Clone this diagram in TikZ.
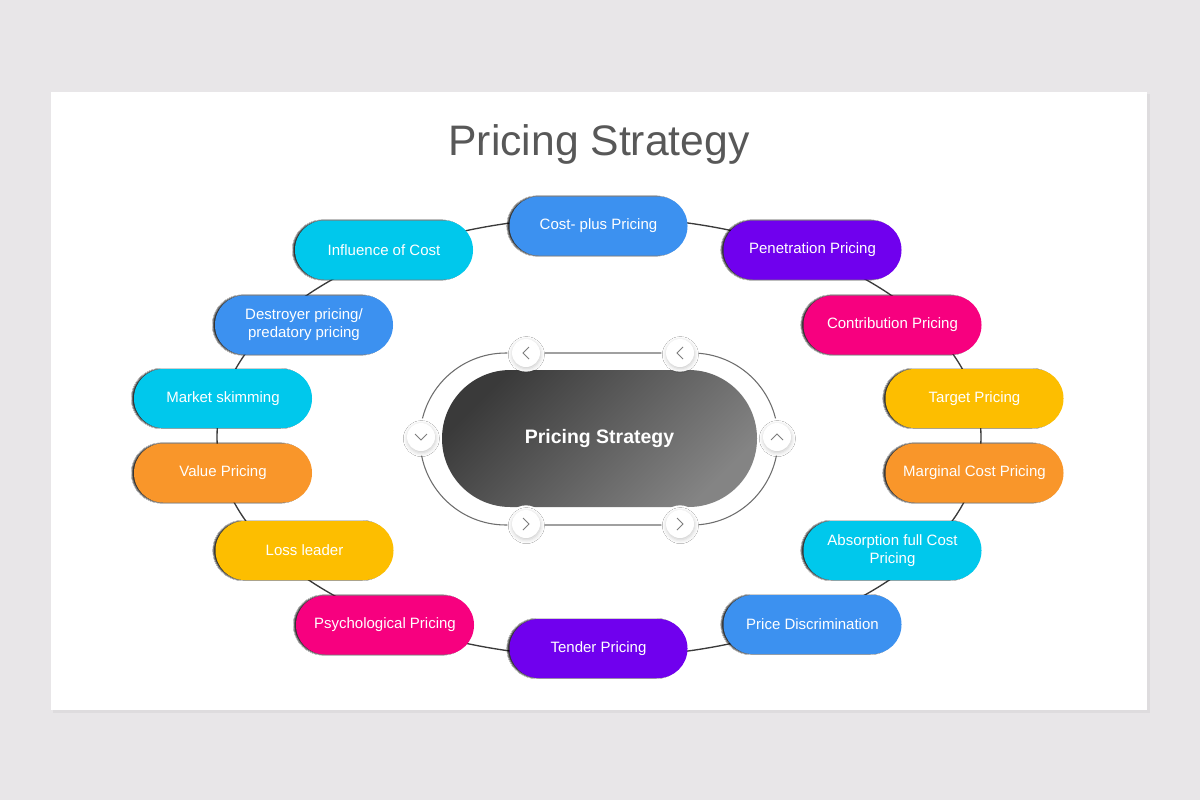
\documentclass[tikz,border=0pt]{standalone}
\usepackage{fontspec}
\setmainfont{Liberation Sans}
\usetikzlibrary{shadows.blur}

\definecolor{backgray}{RGB}{232,230,232}
\definecolor{slideshade}{RGB}{222,220,222}
\definecolor{titlegray}{RGB}{88,88,88}
\definecolor{ringgray}{RGB}{58,58,58}
\definecolor{loopgray}{RGB}{110,110,110}
\definecolor{chevgray}{RGB}{125,125,125}
\definecolor{pillblue}{RGB}{60,145,240}
\definecolor{pillcyan}{RGB}{0,200,236}
\definecolor{pillpurple}{RGB}{112,0,238}
\definecolor{pillpink}{RGB}{247,0,127}
\definecolor{pillyellow}{RGB}{253,190,0}
\definecolor{pillorange}{RGB}{249,150,42}
\definecolor{coredark}{RGB}{58,58,58}
\definecolor{corelight}{RGB}{132,132,132}

\begin{document}
\begin{tikzpicture}[x=0.75pt,y=0.75pt,yscale=-1,xscale=1,
  pill/.style={rectangle, rounded corners=22pt, minimum width=133.5pt, minimum height=44.25pt, inner sep=0pt, align=center, text=white, font=\fontsize{11.25}{13.5}\selectfont, blur shadow={shadow xshift=-1.5pt, shadow yshift=0pt, shadow blur radius=0.6pt, shadow opacity=80}},
  halo/.style={circle, fill=white, minimum size=28pt, inner sep=0pt},
  knob/.style={circle, fill=white, minimum size=21pt, inner sep=0pt, blur shadow={shadow xshift=0.3pt, shadow yshift=-1.2pt, shadow blur radius=3pt, shadow opacity=22}},
  chev/.style={draw=chevgray, line width=0.75pt}
]
\useasboundingbox (0,0) rectangle (1200,800);

%Background
\fill [backgray] (0,0) rectangle (1200,800);
%Slide
\fill [slideshade] (53,94) rectangle (1150,713);
\fill [white] (51,92) rectangle (1147,710);

% Text Node
\node (title) at (599,144) [text=titlegray, font=\fontsize{32}{36}\selectfont] {Pricing Strategy};

%Shape: Ellipse
\coordinate (ring) at (599,437);
\draw [ringgray, line width=1pt] (ring) ellipse [x radius=382, y radius=220];

%Shape: Loop round the core
\draw [loopgray, line width=0.8pt, rounded corners=64.5pt] (420,353) rectangle (778,525);

%Shape: Core
\node (core) at (599.5,438.5) [rectangle, rounded corners=51.3pt, minimum width=236.25pt, minimum height=102.75pt, inner sep=0pt, top color=coredark, bottom color=corelight, shading angle=45, text=white, font=\bfseries\fontsize{14.6}{17}\selectfont] {Pricing Strategy};

%Knobs on the loop
\foreach \name/\x/\y in {kTL/526/353, kTR/680/353, kL/421/437, kR/777/437, kBL/526/524, kBR/680/524}{
  \node [halo] at (\x,\y) {};
  \node [knob] (\name) at (\x,\y) {};
}
\draw [chev] ([shift={(3,-6)}]kTL.center) -- ([shift={(-3,0)}]kTL.center) -- ([shift={(3,6)}]kTL.center);
\draw [chev] ([shift={(3,-6)}]kTR.center) -- ([shift={(-3,0)}]kTR.center) -- ([shift={(3,6)}]kTR.center);
\draw [chev] ([shift={(-3,-6)}]kBL.center) -- ([shift={(3,0)}]kBL.center) -- ([shift={(-3,6)}]kBL.center);
\draw [chev] ([shift={(-3,-6)}]kBR.center) -- ([shift={(3,0)}]kBR.center) -- ([shift={(-3,6)}]kBR.center);
\draw [chev] ([shift={(-6,-3)}]kL.center) -- ([shift={(0,3)}]kL.center) -- ([shift={(6,-3)}]kL.center);
\draw [chev] ([shift={(-6,3)}]kR.center) -- ([shift={(0,-3)}]kR.center) -- ([shift={(6,3)}]kR.center);

% Pills, left side
\node (costplus) at (598.5,226) [pill, fill=pillblue] {Cost- plus Pricing};
\node (influence) at (384,250) [pill, fill=pillcyan] {Influence of Cost};
\node (destroyer) at (304,325) [pill, fill=pillblue] {Destroyer pricing/\\predatory pricing};
\node (skimming) at (223,398.5) [pill, fill=pillcyan] {Market skimming};
\node (value) at (223,473) [pill, fill=pillorange] {Value Pricing};
\node (lossleader) at (304.5,550.5) [pill, fill=pillyellow] {Loss leader};
\node (psycho) at (385,625) [pill, fill=pillpink] {Psychological Pricing};
\node (tender) at (598.5,648.5) [pill, fill=pillpurple] {Tender Pricing};
% Pills, right side
\node (penetration) at (812.5,250) [pill, fill=pillpurple] {Penetration Pricing};
\node (contribution) at (892.5,325) [pill, fill=pillpink] {Contribution Pricing};
\node (target) at (974.5,398.5) [pill, fill=pillyellow] {Target Pricing};
\node (marginal) at (974.5,473) [pill, fill=pillorange] {Marginal Cost Pricing};
\node (absorption) at (892.5,550.5) [pill, fill=pillcyan] {Absorption full Cost\\Pricing};
\node (discrimination) at (812.5,624.5) [pill, fill=pillblue] {Price Discrimination};

\end{tikzpicture}
\end{document}
